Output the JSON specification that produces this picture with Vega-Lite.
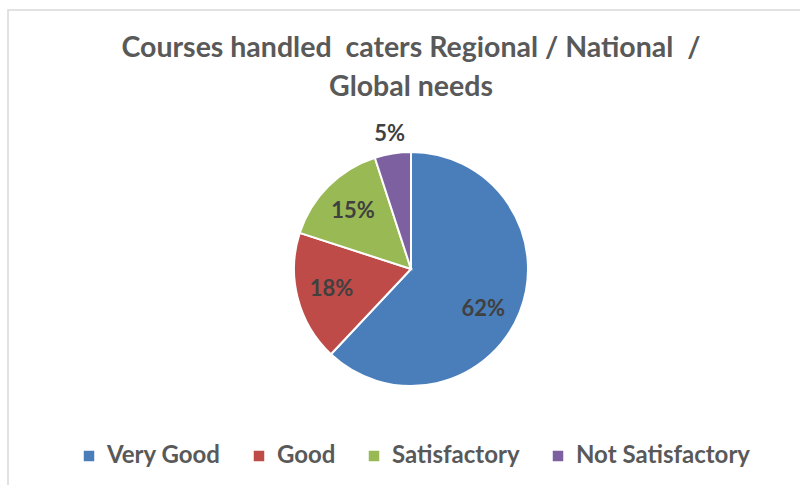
{
  "$schema": "https://vega.github.io/schema/vega-lite/v6.json",
  "autosize": "none",
  "padding": {"left": 8, "top": 10, "right": 0, "bottom": 0},
  "width": 806,
  "height": 518,
  "background": "white",
  "view": {"stroke": "#d9d9d9", "strokeWidth": 1.5, "fill": "white"},
  "title": {
    "text": ["Courses handled\u00a0 caters Regional / National\u00a0 /", "Global needs"],
    "anchor": "middle",
    "frame": "group",
    "offset": -91,
    "font": "Lato",
    "fontSize": 28.5,
    "fontWeight": "bold",
    "color": "#595959",
    "lineHeight": 39
  },
  "data": {
    "values": [
      {"category": "Very Good", "share": 0.62, "rank": 1},
      {"category": "Good", "share": 0.18, "rank": 2},
      {"category": "Satisfactory", "share": 0.15, "rank": 3},
      {"category": "Not Satisfactory", "share": 0.05, "rank": 4}
    ]
  },
  "encoding": {
    "theta": {"field": "share", "type": "quantitative", "stack": true},
    "order": {"field": "rank", "type": "quantitative"}
  },
  "layer": [
    {
      "mark": {"type": "arc", "outerRadius": 117, "stroke": "white", "strokeWidth": 2},
      "encoding": {
        "color": {
          "field": "category",
          "type": "nominal",
          "sort": ["Very Good", "Good", "Satisfactory", "Not Satisfactory"],
          "scale": {
            "domain": ["Very Good", "Good", "Satisfactory", "Not Satisfactory"],
            "range": ["#4a7ebb", "#be4b48", "#98b954", "#7d60a0"]
          },
          "legend": {
            "title": null,
            "orient": "none",
            "direction": "horizontal",
            "legendX": 69,
            "legendY": 434,
            "symbolType": "square",
            "symbolSize": 110,
            "symbolStrokeWidth": 0,
            "labelFont": "Lato",
            "labelFontSize": 24,
            "labelColor": "#595959",
            "labelFontWeight": "bold",
            "labelOffset": 6,
            "columnPadding": 26,
            "labelLimit": 300
          }
        }
      }
    },
    {
      "mark": {"type": "text", "radius": 82, "font": "Lato", "fontSize": 22, "fontWeight": "bold", "color": "#404040"},
      "encoding": {
        "text": {"field": "share", "type": "quantitative", "format": ".0%"},
        "opacity": {"condition": {"test": "datum.category === 'Good' || datum.category === 'Satisfactory'", "value": 1}, "value": 0}
      }
    },
    {
      "mark": {"type": "text", "radius": 82, "dx": -4, "dy": 10, "font": "Lato", "fontSize": 22, "fontWeight": "bold", "color": "#404040"},
      "encoding": {
        "text": {"field": "share", "type": "quantitative", "format": ".0%"},
        "opacity": {"condition": {"test": "datum.category === 'Very Good'", "value": 1}, "value": 0}
      }
    },
    {
      "mark": {"type": "text", "radius": 137, "font": "Lato", "fontSize": 22, "fontWeight": "bold", "color": "#404040"},
      "encoding": {
        "text": {"field": "share", "type": "quantitative", "format": ".0%"},
        "opacity": {"condition": {"test": "datum.category === 'Not Satisfactory'", "value": 1}, "value": 0}
      }
    }
  ]
}
